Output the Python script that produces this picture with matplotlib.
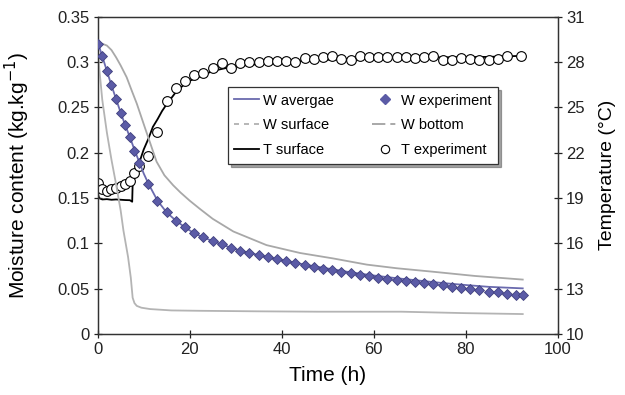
import numpy as np
import matplotlib
matplotlib.use("Agg")
from matplotlib import pyplot as plt
from matplotlib.lines import Line2D

plt.rcParams['font.family'] = ['Liberation Sans', 'DejaVu Sans']

# experiment times (h)
t_wexp = [0, 1, 2, 3, 4, 5, 6, 7, 8, 9] + list(range(11, 92, 2)) + [92.4]
w_exp = [0.320, 0.306, 0.290, 0.274, 0.259, 0.244, 0.230, 0.217, 0.202, 0.189,
         0.165, 0.147, 0.134, 0.125, 0.1175, 0.111, 0.1065, 0.1024, 0.0988, 0.095,
         0.092, 0.0896, 0.087, 0.0845, 0.0822, 0.080, 0.078, 0.076, 0.0738, 0.0719,
         0.0701, 0.0683, 0.0668, 0.065, 0.0635, 0.062, 0.061, 0.0598, 0.0587, 0.0573,
         0.0562, 0.0551, 0.0536, 0.052, 0.051, 0.0496, 0.0485, 0.0466, 0.0459, 0.0444,
         0.0433, 0.0426]

t_texp = [0, 1, 2, 3, 4, 5, 6, 7, 8, 9] + list(range(11, 90, 2)) + [92]
T_exp = [20.0, 19.6, 19.46, 19.62, 19.68, 19.8, 19.92, 20.15, 20.68, 21.1,
         21.76, 23.37, 25.41, 26.3, 26.74, 27.1, 27.28, 27.61, 27.94, 27.59,
         27.94, 28.01, 28.01, 28.06, 28.06, 28.08, 28.0, 28.24, 28.17, 28.3,
         28.4, 28.2, 28.1, 28.38, 28.3, 28.3, 28.3, 28.3, 28.3, 28.28,
         28.33, 28.42, 28.1, 28.15, 28.25, 28.2, 28.15, 28.15, 28.2, 28.42,
         28.38]

# model curves
t_avg = [0, 1, 2, 3, 4, 5, 6, 7, 8, 9, 10, 11, 13, 15, 17, 19, 21, 23, 25, 27,
         29, 31, 35, 40, 45, 50, 55, 60, 65, 70, 75, 80, 85, 92.4]
w_avg = [0.322, 0.306, 0.290, 0.274, 0.259, 0.244, 0.230, 0.217, 0.203, 0.190,
         0.177, 0.166, 0.147, 0.134, 0.125, 0.1175, 0.111, 0.1065, 0.1024, 0.0988,
         0.095, 0.092, 0.087, 0.0815, 0.0765, 0.0722, 0.068, 0.0645, 0.0615, 0.0588,
         0.0562, 0.054, 0.052, 0.0503]

t_surf = [0, 0.3, 1, 2, 3, 4, 5, 5.6, 6.6, 7.2, 7.6, 8.0, 8.5, 9.5, 11.4, 16,
          22, 35, 48, 66, 80, 92.4]
w_surf = [0.320, 0.295, 0.258, 0.222, 0.192, 0.165, 0.136, 0.114, 0.085, 0.062,
          0.040, 0.034, 0.031, 0.029, 0.0275, 0.026, 0.0256, 0.025, 0.0246, 0.0246,
          0.023, 0.022]

t_bot = [0, 1, 2, 3, 4, 5, 6.3, 7.5, 8.5, 10.3, 12.8, 14.5, 16.4, 18, 20,
         22.2, 25, 29.5, 36.7, 44, 51.2, 58.5, 65, 73, 82, 92.4]
w_bot = [0.320, 0.320, 0.318, 0.313, 0.305, 0.296, 0.283, 0.267, 0.254, 0.227,
         0.190, 0.175, 0.164, 0.156, 0.147, 0.138, 0.127, 0.113, 0.098, 0.0893,
         0.0833, 0.0765, 0.0725, 0.0686, 0.064, 0.060]

t_Tsurf = [0, 0.3, 0.6, 1, 2, 3, 4, 5, 6, 7, 7.5, 7.6, 8, 9, 10, 11, 12, 13, 14,
           15, 16, 17, 18.6, 20, 22, 25, 29.5, 36.7, 48, 60, 75, 85, 92.4]
T_surf = [19.3, 19.0, 18.95, 18.9, 18.92, 18.88, 18.9, 18.88, 18.86, 18.85, 18.75,
          19.9, 20.3, 21.3, 22.2, 22.9, 23.7, 24.2, 24.75, 25.2, 25.6, 26.0, 26.45,
          26.75, 27.0, 27.4, 27.7, 27.9, 28.12, 28.25, 28.3, 28.33, 28.4]

fig = plt.figure(figsize=(6.25, 3.95), dpi=100)
ax = fig.add_axes([0.1563, 0.1544, 0.736, 0.8038])
ax2 = ax.twinx()

blue = '#6a6aae'
ax.plot(t_avg, w_avg, color=blue, lw=1.3, zorder=3)
ax.plot(t_surf, w_surf, color='#b4b4b4', lw=1.3, zorder=2)
ax.plot(t_bot, w_bot, color='#a8a8a8', lw=1.3, zorder=2)
ax.plot(t_wexp, w_exp, ls='none', marker='D', ms=5.2, mfc='#5b5ba6',
        mec='#40407f', mew=0.6, zorder=4)

ax2.plot(t_Tsurf, T_surf, color='black', lw=1.3, zorder=3)
ax2.plot(t_texp, T_exp, ls='none', marker='o', ms=7, mfc='white',
         mec='black', mew=0.8, zorder=4)

ax.set_xlim(0, 100)
ax.set_ylim(0, 0.35)
ax2.set_ylim(10, 31)
ax.set_xticks(range(0, 101, 20))
ax.set_yticks(np.arange(0, 0.351, 0.05))
ax.set_yticklabels(['0', '0.05', '0.1', '0.15', '0.2', '0.25', '0.3', '0.35'])
ax2.set_yticks(range(10, 32, 3))

for a in (ax, ax2):
    a.tick_params(direction='inout', length=6, width=0.9, labelsize=12,
                  colors='#222222', pad=3)
    for s in a.spines.values():
        s.set_linewidth(0.9)
        s.set_color('#333333')

ax.set_xlabel('Time (h)', fontsize=15)
ax.set_ylabel('Moisture content (kg.kg$^{-1}$)', fontsize=15)
ax2.set_ylabel('Temperature (°C)', fontsize=14)
ax.xaxis.set_label_coords(0.5, -0.1)
ax.yaxis.set_label_coords(-0.143, 0.5)
ax2.yaxis.set_label_coords(1.09, 0.5)

# keep the moisture axes on top
ax.set_zorder(ax2.get_zorder() + 1)
ax.patch.set_visible(False)

handles = [
    Line2D([], [], color=blue, lw=1.3),
    Line2D([], [], color='#aaaaaa', lw=1.2, ls=(0, (3, 3))),
    Line2D([], [], color='black', lw=1.3),
    Line2D([], [], ls='none', marker='D', ms=5, mfc='#5b5ba6', mec='#5b5ba6'),
    Line2D([], [], color='#999999', lw=1.2, ls=(0, (8, 3, 3, 3))),
    Line2D([], [], ls='none', marker='o', ms=6, mfc='white', mec='black', mew=0.8),
]
labels = ['W avergae', 'W surface', 'T surface', 'W experiment', 'W bottom',
          'T experiment']
leg = ax.legend(handles, labels, ncol=2, loc='upper left',
                bbox_to_anchor=(0.283, 0.532, 0.587, 0.246), mode='expand',
                fontsize=10.5, frameon=True, fancybox=False, shadow=True,
                handlelength=1.7, handletextpad=0.25, columnspacing=1.0,
                labelspacing=0.75, borderaxespad=0, borderpad=0.45)
leg.get_frame().set_edgecolor('#333333')
leg.get_frame().set_linewidth(0.9)

fig.savefig('out.png', dpi=100)
